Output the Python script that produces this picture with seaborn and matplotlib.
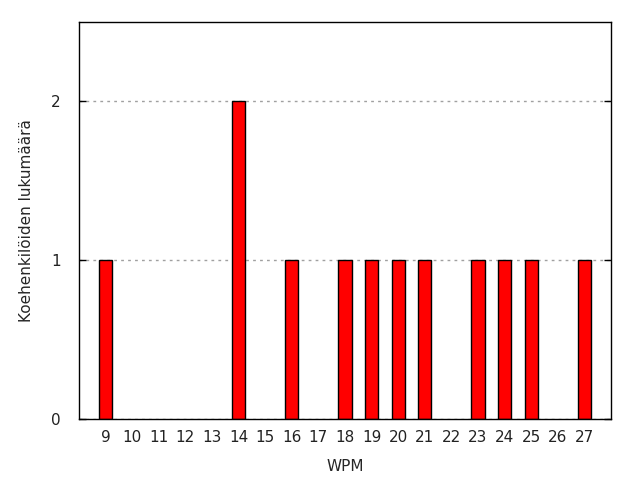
import matplotlib
matplotlib.use('Agg')
import matplotlib.pyplot as plt
import seaborn as sns
import pandas as pd

wpm = ['9', '10', '11', '12', '13', '14', '15', '16', '17', '18',
       '19', '20', '21', '22', '23', '24', '25', '26', '27']
counts = [1, 0, 0, 0, 0, 2, 0, 1, 0, 1, 1, 1, 1, 0, 1, 1, 1, 0, 1]

df = pd.DataFrame({'WPM': wpm, 'count': counts})

sns.set_style('white')
plt.rcParams['font.family'] = ['DejaVu Sans']

fig = plt.figure(figsize=(6.4, 4.8), dpi=100)
ax = fig.add_axes([79 / 640, 1 - 419 / 480, (611 - 79) / 640, (419 - 22) / 480])

sns.barplot(data=df, x='WPM', y='count', color='red', width=0.5,
            edgecolor='black', linewidth=1, saturation=1, ax=ax)

# gnuplot draws nothing for empty bins
for p in ax.patches:
    if p.get_height() == 0:
        p.set_visible(False)

ax.set_xlim(-1, len(wpm))
ax.set_ylim(0, 2.5)
ax.set_yticks([0, 1, 2])
ax.yaxis.grid(True, linestyle=(0, (2, 3)), color='#a0a0a0', linewidth=1)
ax.set_axisbelow(True)

for s in ax.spines.values():
    s.set_color('black')
    s.set_linewidth(1)

ax.tick_params(axis='x', direction='in', length=5, width=1, pad=8,
               labelsize=11, colors='black')
ax.tick_params(axis='y', direction='in', length=5, width=1, pad=13,
               labelsize=11, colors='black', right=True, left=True)
for lab in ax.get_xticklabels() + ax.get_yticklabels():
    lab.set_color('#222222')

ax.set_xlabel('WPM', fontsize=11, labelpad=10)
ax.set_ylabel('Koehenkilöiden lukumäärä', fontsize=11)
ax.yaxis.set_label_coords(-(79 - 34) / (611 - 79), 0.5)

fig.savefig('out.png', dpi=100)
